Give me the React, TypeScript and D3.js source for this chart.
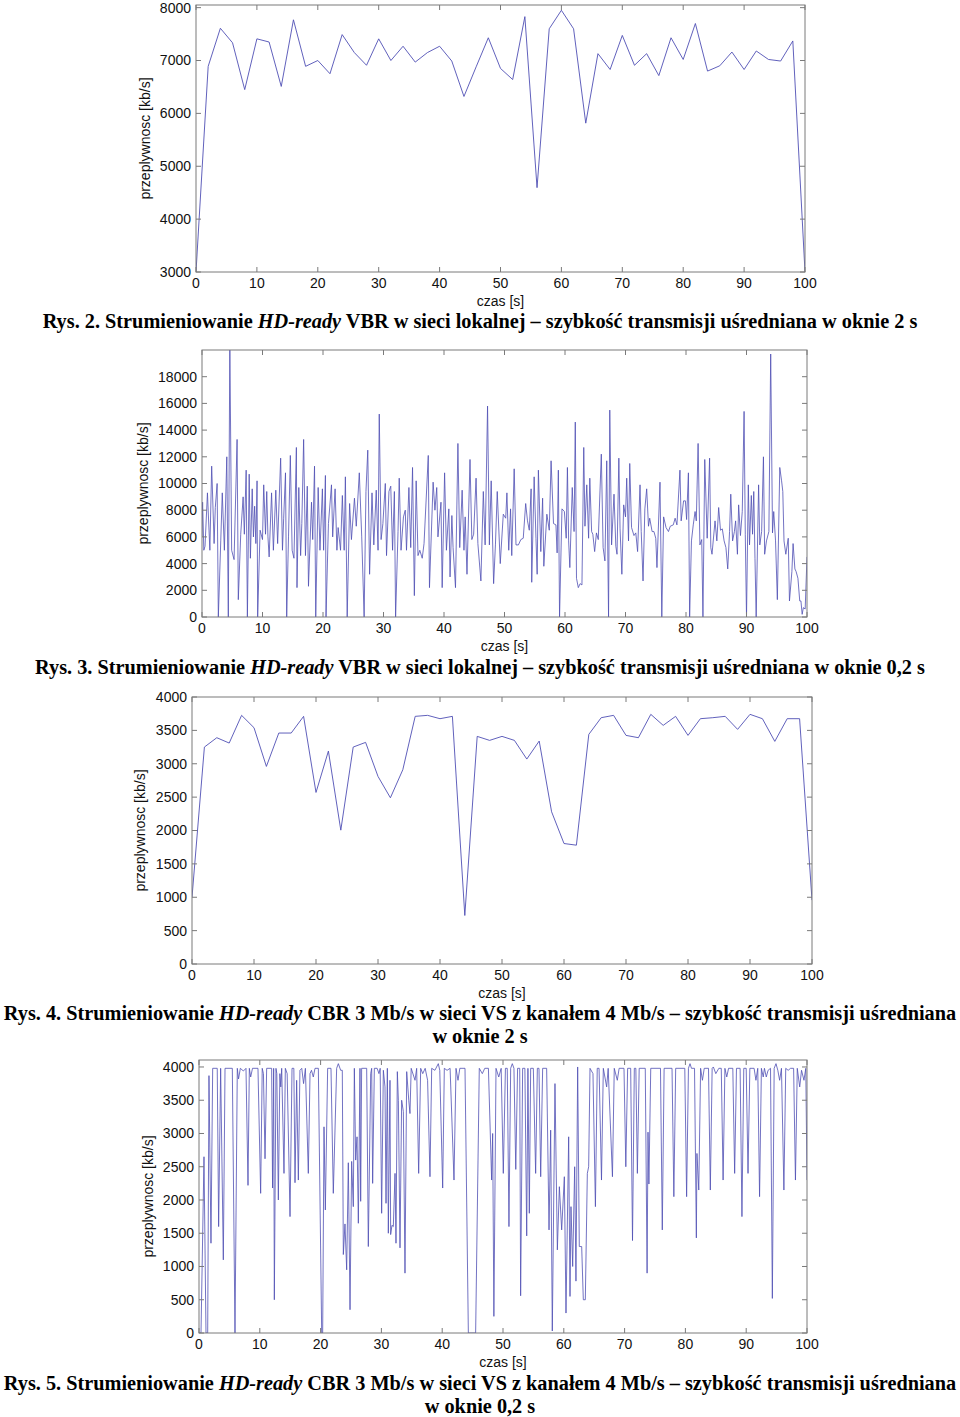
import React from "react";
import * as d3 from "d3";

// ---------- DATA ----------
const X_TICKS = [0, 10, 20, 30, 40, 50, 60, 70, 80, 90, 100];

// Rys. 2 – VBR, window 2 s (samples every 2 s)
const P1_TIME = d3.range(0, 101, 2);
const P1_RATE = [3000, 6890, 7610, 7335, 6450, 7410, 7350, 6510, 7770, 6890, 7000, 6750, 7490, 7150, 6910, 7410, 7000, 7270, 6970, 7150, 7270, 6990, 6320, 6880, 7430, 6850, 6640, 7830, 4595, 7600, 7950, 7600, 5815, 7130, 6830, 7475, 6910, 7130, 6715, 7430, 7020, 7700, 6800, 6900, 7160, 6830, 7180, 7020, 6990, 7370, 3000];
const P1_Y_TICKS = [3000, 4000, 5000, 6000, 7000, 8000];

// Rys. 3 – VBR, window 0.2 s  [time s, rate kb/s]
const P2_SAMPLES: [number, number][] = [
  [0, 6000], [0.1, 8600], [0.3, 5000], [0.5, 5300], [0.9, 9300], [1.3, 5000], [1.6, 11300], [2.0, 5500], [2.2, 8200], [2.5, 10000], [2.7, 0], [3.1, 5700], [3.35, 9300], [3.7, 5000], [4.1, 12000], [4.35, 0], [4.6, 20500], [4.9, 5000], [5.3, 4300], [5.8, 13300], [6.0, 1300], [6.4, 6200], [6.8, 9000], [7.0, 6200], [7.3, 11000], [7.5, 0], [7.8, 10700], [8.0, 4400], [8.3, 9600], [8.5, 6000], [8.7, 8300], [8.9, 5500], [9.1, 10200], [9.2, 0], [9.6, 6500], [10.0, 5800], [10.2, 9900], [10.5, 6200], [10.7, 9400], [10.9, 6000], [11.1, 4500], [11.5, 9300], [11.8, 5000], [12.2, 9500], [12.5, 5500], [13.0, 11900], [13.3, 5000], [13.5, 7400], [13.8, 10800], [14.0, 0], [14.3, 6000], [14.6, 12100], [14.9, 5000], [15.2, 4400], [15.6, 12700], [15.7, 2200], [16.0, 9700], [16.3, 4600], [16.5, 7000], [16.8, 13300], [17.1, 4600], [17.4, 9800], [17.6, 2300], [18.1, 8600], [18.3, 5800], [18.6, 11300], [18.8, 0], [19.2, 9700], [19.5, 5000], [19.9, 9600], [20.1, 5000], [20.4, 10600], [20.5, 0], [20.9, 7000], [21.4, 9900], [21.6, 6000], [22.0, 9600], [22.3, 5000], [22.5, 6700], [22.9, 5000], [23.2, 9100], [23.5, 5000], [23.7, 10500], [24.0, 0], [24.4, 8500], [24.7, 5800], [25.2, 8900], [25.5, 6800], [26.0, 10800], [26.4, 6000], [26.8, 0], [27.1, 9400], [27.4, 12500], [27.7, 3200], [28.1, 9300], [28.4, 5400], [28.8, 9500], [29.1, 5000], [29.3, 15200], [29.6, 5800], [29.9, 7000], [30.3, 10000], [30.5, 4600], [30.9, 9400], [31.2, 9800], [31.5, 5000], [31.8, 9400], [32.0, 0], [32.4, 6400], [32.6, 10400], [32.9, 5000], [33.3, 7500], [33.6, 8000], [33.8, 5000], [34.2, 9700], [34.5, 5200], [34.8, 11200], [35.1, 1600], [35.4, 10200], [35.7, 4600], [36.0, 5000], [36.4, 4400], [36.7, 5500], [37.4, 12100], [37.6, 2200], [38.2, 10100], [38.5, 8000], [38.8, 9700], [39.0, 6000], [39.5, 8600], [39.7, 2200], [40.1, 10800], [40.4, 5000], [40.8, 8100], [41.0, 3000], [41.3, 7600], [41.5, 5200], [41.9, 2200], [42.3, 13000], [42.6, 5200], [43.0, 9500], [43.3, 5000], [43.5, 7500], [43.8, 3200], [44.3, 11800], [44.6, 5800], [44.9, 6200], [45.3, 10400], [45.6, 5500], [46.1, 2700], [46.5, 9400], [46.8, 5400], [47.2, 15800], [47.5, 5400], [47.8, 10200], [48.2, 2500], [48.5, 5400], [48.8, 9400], [49.3, 4000], [49.8, 7700], [50.2, 7400], [50.4, 9300], [50.7, 5000], [51.0, 8100], [51.2, 4600], [51.6, 11100], [51.9, 5400], [52.3, 5400], [52.7, 5800], [53.1, 5900], [53.5, 8500], [53.8, 7200], [54.1, 6500], [54.4, 9600], [54.5, 2600], [54.9, 10500], [55.2, 5900], [55.4, 3200], [55.6, 11000], [56.0, 4900], [56.3, 8900], [56.5, 3800], [57.0, 7700], [57.4, 6500], [57.7, 11700], [58.1, 7000], [58.5, 6900], [58.7, 4800], [58.9, 11000], [59.1, 0], [59.5, 8100], [59.9, 7900], [60.2, 5900], [60.4, 11200], [60.6, 5700], [60.8, 3700], [61.2, 9700], [61.5, 6400], [61.7, 14600], [61.9, 2900], [62.2, 2200], [62.5, 2500], [62.8, 2400], [63.1, 12700], [63.3, 6800], [63.6, 9900], [63.9, 5900], [64.1, 10400], [64.4, 6400], [64.6, 6200], [64.9, 4900], [65.2, 6300], [65.5, 5800], [66.0, 12200], [66.3, 5200], [66.6, 4200], [66.9, 11700], [67.2, 0], [67.4, 15500], [67.7, 5400], [68.1, 9200], [68.4, 5300], [68.6, 4700], [68.9, 11900], [69.1, 6600], [69.4, 3200], [69.7, 8400], [70.0, 7500], [70.2, 10400], [70.5, 5700], [70.7, 11500], [71.0, 6700], [71.4, 6100], [71.7, 6300], [72.0, 4900], [72.4, 9900], [72.6, 6400], [72.9, 2700], [73.2, 8100], [73.5, 9600], [73.8, 6800], [74.0, 7400], [74.4, 6400], [74.7, 6400], [75.0, 5900], [75.2, 3700], [75.7, 10100], [76.0, 0], [76.3, 7500], [76.7, 6700], [77.1, 6400], [77.4, 6800], [77.9, 6900], [78.2, 7400], [78.5, 6900], [79.0, 11000], [79.2, 7200], [79.6, 8700], [79.9, 8700], [80.1, 7300], [80.4, 10800], [80.6, 0], [80.9, 5700], [81.2, 6900], [81.5, 7900], [81.7, 7200], [82.0, 13000], [82.3, 5400], [82.6, 5800], [82.8, 0], [83.1, 11800], [83.5, 5900], [83.9, 11900], [84.1, 5200], [84.3, 4700], [84.8, 7200], [85.1, 5700], [85.4, 8200], [85.7, 6500], [86.0, 6600], [86.3, 5700], [86.6, 5200], [86.9, 3600], [87.2, 6400], [87.4, 9200], [87.7, 5700], [88.0, 6400], [88.2, 7200], [88.5, 4700], [88.7, 8400], [89.0, 6100], [89.3, 7900], [89.6, 15400], [89.8, 6200], [90.0, 0], [90.3, 9900], [90.5, 5400], [90.8, 9100], [91.0, 6200], [91.2, 9400], [91.4, 4400], [91.6, 0], [92.0, 9900], [92.2, 5400], [92.5, 6400], [92.8, 12000], [93.0, 4700], [93.3, 5700], [93.7, 6400], [94.0, 19700], [94.3, 6300], [94.5, 7900], [94.8, 5700], [95.1, 1300], [95.5, 11200], [95.8, 10200], [96.0, 9400], [96.2, 5700], [96.5, 4700], [96.9, 5900], [97.1, 1200], [97.5, 3400], [97.7, 5500], [98.0, 3600], [98.2, 3400], [98.5, 2900], [98.8, 1200], [99.0, 1200], [99.2, 200], [99.4, 700], [99.7, 600], [100.0, 4500],
];
const P2_Y_TICKS = [0, 2000, 4000, 6000, 8000, 10000, 12000, 14000, 16000, 18000];

// Rys. 4 – CBR 3 Mb/s, window 2 s
const P3_TIME = d3.range(0, 101, 2);
const P3_RATE = [1000, 3250, 3390, 3310, 3725, 3540, 2960, 3460, 3460, 3710, 2570, 3190, 2005, 3250, 3320, 2810, 2490, 2910, 3710, 3725, 3675, 3710, 727, 3410, 3350, 3410, 3350, 3070, 3340, 2280, 1805, 1780, 3440, 3690, 3725, 3425, 3390, 3740, 3575, 3710, 3425, 3675, 3690, 3710, 3515, 3740, 3675, 3335, 3675, 3675, 957];
const P34_Y_TICKS = [0, 500, 1000, 1500, 2000, 2500, 3000, 3500, 4000];

// Rys. 5 – CBR 3 Mb/s, window 0.2 s  [time s, rate kb/s]
const P4_SAMPLES: [number, number][] = [
  [0, 0], [0.33, 0], [0.82, 2650], [1.15, 0], [1.43, 0], [1.64, 3870], [1.97, 1350], [2.25, 3980], [3.0, 3980], [3.23, 1600], [3.56, 3980], [4.0, 1100], [4.28, 3980], [5.48, 3980], [5.92, 0], [6.3, 3980], [6.5, 3820], [6.8, 3980], [7.3, 3940], [7.73, 3980], [8.06, 2220], [8.28, 3980], [8.5, 3850], [8.8, 3980], [9.7, 3980], [10.14, 2100], [10.4, 3980], [10.6, 3900], [10.86, 2620], [11.13, 3980], [11.95, 3980], [12.1, 2180], [12.28, 3980], [12.39, 500], [12.66, 3980], [12.8, 3900], [13.05, 2000], [13.3, 3900], [13.45, 3700], [13.6, 3980], [13.98, 2400], [14.2, 3980], [14.5, 3900], [14.97, 1750], [15.3, 3980], [15.6, 3980], [15.79, 2260], [16.06, 3800], [16.34, 2300], [16.6, 3950], [16.9, 3980], [17.2, 3750], [17.5, 3980], [17.98, 2400], [18.26, 3900], [18.5, 3950], [18.8, 3850], [19.08, 3980], [19.63, 3980], [20.18, 0], [20.34, 0], [20.56, 3100], [20.78, 1850], [21.16, 3980], [21.71, 3980], [22.09, 2100], [22.64, 3980], [22.92, 4050], [23.3, 3950], [23.57, 3950], [23.74, 1180], [24.01, 1640], [24.29, 950], [24.56, 2560], [24.84, 350], [25.11, 2580], [25.38, 1900], [25.55, 3980], [25.77, 2600], [25.99, 2950], [26.21, 1650], [26.48, 3980], [26.59, 1980], [26.75, 3980], [27.58, 3980], [27.85, 1300], [28.24, 3900], [28.4, 3980], [28.56, 2250], [28.84, 3980], [29.3, 3980], [29.6, 3900], [29.8, 3980], [30.04, 1800], [30.32, 3950], [30.59, 3700], [30.76, 1950], [30.98, 3980], [31.14, 1500], [31.41, 3800], [31.52, 1480], [31.74, 1620], [31.96, 1600], [32.24, 2400], [32.4, 1350], [32.62, 3930], [32.79, 3500], [33.06, 1280], [33.33, 3500], [33.61, 3330], [33.88, 900], [34.16, 3930], [34.5, 3500], [34.7, 3300], [34.9, 3980], [35.53, 3800], [35.8, 3980], [36.13, 2400], [36.46, 3980], [36.8, 3900], [37.2, 3980], [37.6, 3800], [37.99, 2350], [38.27, 3980], [38.8, 3950], [39.36, 4050], [39.6, 3950], [40.08, 2180], [40.35, 3980], [40.8, 3950], [41.3, 3980], [41.94, 2300], [42.27, 3980], [42.6, 3800], [42.9, 3980], [43.75, 3980], [44.3, 0], [45.5, 0], [46.1, 3980], [46.6, 3900], [47.0, 3980], [47.6, 3980], [48.13, 2300], [48.3, 3000], [48.5, 250], [48.85, 3980], [49.3, 3850], [49.7, 3980], [50.05, 2400], [50.4, 3980], [50.7, 3980], [50.98, 1600], [51.26, 3980], [51.53, 4050], [51.8, 3980], [52.1, 2460], [52.4, 3980], [52.75, 3980], [52.9, 560], [53.23, 3980], [53.6, 3980], [53.9, 1460], [54.1, 3980], [54.33, 1800], [54.55, 3980], [54.99, 3980], [55.37, 2400], [55.65, 3980], [55.92, 3980], [56.2, 2350], [56.52, 3980], [57.18, 3980], [57.57, 1550], [57.84, 3050], [58.11, 30], [58.55, 3750], [58.94, 1250], [59.27, 2200], [59.65, 1550], [60.09, 2350], [60.36, 300], [60.8, 2950], [61.02, 550], [61.18, 1900], [61.46, 1000], [61.79, 2500], [62.0, 780], [62.28, 4000], [62.55, 1300], [62.94, 1300], [63.21, 500], [63.54, 500], [63.87, 2400], [64.09, 2500], [64.31, 3980], [64.8, 3900], [65.2, 1900], [65.5, 3980], [65.8, 3980], [66.2, 2300], [66.5, 3980], [67.05, 3700], [67.3, 3980], [68.0, 2350], [68.3, 3980], [68.8, 3800], [69.1, 3980], [69.9, 3980], [70.2, 2500], [70.5, 3980], [71.0, 3980], [71.3, 1390], [71.6, 3980], [71.85, 3980], [72.1, 2400], [72.4, 3980], [73.4, 3980], [73.7, 900], [73.85, 3020], [74.0, 2240], [74.3, 3980], [75.9, 3980], [76.2, 1550], [76.5, 3980], [77.8, 3980], [78.1, 2050], [78.4, 3980], [79.9, 3980], [80.2, 2050], [80.5, 3980], [80.76, 4050], [81.0, 3980], [81.5, 3980], [81.8, 1430], [81.9, 2700], [82.2, 2150], [82.5, 3980], [82.8, 3800], [83.1, 3980], [83.8, 3980], [84.1, 2150], [84.4, 3980], [84.6, 4000], [85.0, 3900], [85.5, 3980], [85.9, 3980], [86.2, 2300], [86.5, 3980], [86.8, 3850], [87.1, 3980], [87.8, 3980], [88.1, 2400], [88.4, 3980], [89.0, 3980], [89.3, 1750], [89.6, 3980], [90.0, 3980], [90.3, 2400], [90.6, 3980], [91.3, 3980], [91.6, 3800], [91.9, 3980], [92.2, 2050], [92.5, 3980], [92.8, 3850], [93.0, 3980], [93.3, 3850], [93.6, 3950], [94.0, 3980], [94.3, 520], [94.6, 3980], [94.9, 4050], [95.2, 3950], [95.5, 3800], [95.8, 3980], [96.2, 2150], [96.5, 3980], [96.9, 3950], [97.3, 3980], [97.8, 3980], [98.1, 2300], [98.4, 3980], [98.8, 3700], [99.1, 3950], [99.5, 3800], [99.8, 3980], [100.0, 2300],
];

const Y_TITLE = "przeplywnosc [kb/s]";
const X_TITLE = "czas [s]";

// ---------- STYLE ----------
const LINE_COLOR = "#4f4fb4";
const FRAME_COLOR = "#7a7a7a";
const SANS = "'Liberation Sans', Arial, Helvetica, sans-serif";
const SERIF = "'Liberation Serif', 'Times New Roman', serif";
const CAPTION_SIZE = 20.3;

type PanelProps = {
  id: string;
  left: number; right: number; top: number; bottom: number;
  yDomain: [number, number];
  yTicks: number[];
  points: [number, number][];
  yTitleX: number;
  lineWidth: number;
};

function Panel({ id, left, right, top, bottom, yDomain, yTicks, points, yTitleX, lineWidth }: PanelProps) {
  const x = d3.scaleLinear().domain([0, 100]).range([left, right]);
  const y = d3.scaleLinear().domain(yDomain).range([bottom, top]);
  const line = d3.line<[number, number]>().x((d) => x(d[0])).y((d) => y(d[1]));
  const tl = 5;
  return (
    <g>
      <defs>
        <clipPath id={`clip-${id}`}>
          <rect x={left} y={top} width={right - left} height={bottom - top} />
        </clipPath>
      </defs>
      <path d={line(points) || ""} fill="none" stroke={LINE_COLOR} strokeWidth={lineWidth} strokeLinejoin="round" clipPath={`url(#clip-${id})`} />
      <rect x={left} y={top} width={right - left} height={bottom - top} fill="none" stroke={FRAME_COLOR} strokeWidth={1} />
      {X_TICKS.map((t) => (
        <g key={`x${t}`}>
          <line x1={x(t)} x2={x(t)} y1={bottom} y2={bottom - tl} stroke={FRAME_COLOR} />
          <line x1={x(t)} x2={x(t)} y1={top} y2={top + tl} stroke={FRAME_COLOR} />
          <text x={x(t)} y={bottom + 16} textAnchor="middle" fontFamily={SANS} fontSize={14} fill="#111">{t}</text>
        </g>
      ))}
      {yTicks.map((v) => (
        <g key={`y${v}`}>
          <line x1={left} x2={left + tl} y1={y(v)} y2={y(v)} stroke={FRAME_COLOR} />
          <line x1={right} x2={right - tl} y1={y(v)} y2={y(v)} stroke={FRAME_COLOR} />
          <text x={left - 5} y={y(v)} dy="0.35em" textAnchor="end" fontFamily={SANS} fontSize={14} fill="#111">{v}</text>
        </g>
      ))}
      <text x={(left + right) / 2} y={bottom + 34} textAnchor="middle" fontFamily={SANS} fontSize={14} fill="#111">{X_TITLE}</text>
      <text transform={`translate(${yTitleX},${(top + bottom) / 2}) rotate(-90)`} textAnchor="middle" fontFamily={SANS} fontSize={14} fill="#111">{Y_TITLE}</text>
    </g>
  );
}

function Caption({ x, y, num, pre, post }: { x: number; y: number; num: string; pre: string; post: string }) {
  return (
    <text x={x} y={y} textAnchor="middle" fontFamily={SERIF} fontSize={CAPTION_SIZE} fontWeight="bold" fill="#000">
      {`Rys. ${num}. ${pre} `}
      <tspan fontStyle="italic">HD-ready</tspan>
      {` ${post}`}
    </text>
  );
}

export default function App() {
  const p1 = P1_TIME.map((t, i) => [t, P1_RATE[i]] as [number, number]);
  const p3 = P3_TIME.map((t, i) => [t, P3_RATE[i]] as [number, number]);
  return (
    <svg width={960} height={1417} style={{ position: "absolute", left: 0, top: 0, background: "#fff" }}>
      <rect x={0} y={0} width={960} height={1417} fill="#fff" />
      <Panel id="p1" left={196} right={805} top={5} bottom={272} yDomain={[3000, 8050]} yTicks={P1_Y_TICKS} points={p1} yTitleX={150} lineWidth={0.9} />
      <Caption x={480} y={328} num="2" pre="Strumieniowanie" post="VBR w sieci lokalnej – szybkość transmisji uśredniana w oknie 2 s" />

      <Panel id="p2" left={202} right={807} top={350} bottom={617} yDomain={[0, 20000]} yTicks={P2_Y_TICKS} points={P2_SAMPLES} yTitleX={148} lineWidth={0.8} />
      <Caption x={480} y={674} num="3" pre="Strumieniowanie" post="VBR w sieci lokalnej – szybkość transmisji uśredniana w oknie 0,2 s" />

      <Panel id="p3" left={192} right={812} top={697} bottom={964} yDomain={[0, 4000]} yTicks={P34_Y_TICKS} points={p3} yTitleX={145} lineWidth={0.9} />
      <Caption x={480} y={1020} num="4" pre="Strumieniowanie" post="CBR 3 Mb/s w sieci VS z kanałem 4 Mb/s – szybkość transmisji uśredniana" />
      <text x={480} y={1043} textAnchor="middle" fontFamily={SERIF} fontSize={CAPTION_SIZE} fontWeight="bold">w oknie 2 s</text>

      <Panel id="p4" left={199} right={807} top={1060} bottom={1333} yDomain={[0, 4105]} yTicks={P34_Y_TICKS} points={P4_SAMPLES} yTitleX={153} lineWidth={0.8} />
      <Caption x={480} y={1390} num="5" pre="Strumieniowanie" post="CBR 3 Mb/s w sieci VS z kanałem 4 Mb/s – szybkość transmisji uśredniana" />
      <text x={480} y={1413} textAnchor="middle" fontFamily={SERIF} fontSize={CAPTION_SIZE} fontWeight="bold">w oknie 0,2 s</text>
    </svg>
  );
}
